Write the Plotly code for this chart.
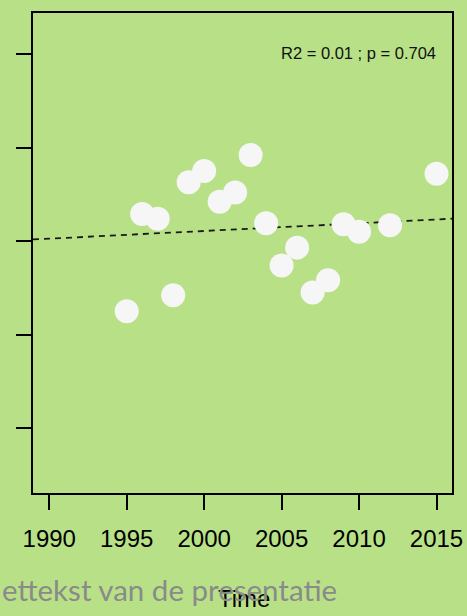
import numpy as np
import plotly.graph_objects as go

# Annual observations
years = [1995, 1996, 1997, 1998, 1999, 2000, 2001, 2002, 2003,
         2004, 2005, 2006, 2007, 2008, 2009, 2010, 2012, 2015]
values = [1.25, 2.29, 2.24, 1.42, 2.63, 2.75, 2.42, 2.52, 2.92,
          2.19, 1.74, 1.93, 1.45, 1.58, 2.18, 2.10, 2.17, 2.72]

x_ticks = [1990, 1995, 2000, 2005, 2010, 2015]
y_ticks = [0, 1, 2, 3, 4]
x_range = [1988.95, 2016.0]
y_range = [-0.695, 4.44]

stats_label = "R2 = 0.01 ; p = 0.704"
footer_label = "ettekst van de presentatie"

# Linear trend over time
slope, intercept = np.polyfit(years, values, 1)
trend_x = np.array(x_range)
trend_y = intercept + slope * trend_x

bg = "#b8e187"
font_family = "Liberation Sans, Arial, sans-serif"

fig = go.Figure()
fig.add_trace(go.Scatter(
    x=trend_x, y=trend_y, mode="lines",
    line=dict(color="#1a1a1a", width=1.8, dash="6px,5px"),
    hoverinfo="skip", showlegend=False,
))
fig.add_trace(go.Scatter(
    x=years, y=values, mode="markers",
    marker=dict(size=24, color="#f6f6f6", line=dict(width=0)),
    showlegend=False,
))

fig.update_layout(
    width=467, height=616,
    margin=dict(l=33, r=15, t=13, b=123),
    paper_bgcolor=bg, plot_bgcolor=bg,
    font=dict(family=font_family, color="#000000"),
    xaxis=dict(
        range=x_range, tickvals=x_ticks, ticks="outside", ticklen=15,
        tickwidth=1.6, tickcolor="#000", showline=True, linewidth=2,
        linecolor="#000", mirror=True, showgrid=False, zeroline=False,
        automargin=False, ticklabelstandoff=8,
        tickfont=dict(size=24, family=font_family, color="#000"),
    ),
    yaxis=dict(
        range=y_range, tickvals=y_ticks, ticks="outside", ticklen=15,
        tickwidth=1.6, tickcolor="#000", showline=True, linewidth=2,
        linecolor="#000", mirror=True, showgrid=False, zeroline=False,
        automargin=False, showticklabels=False,
    ),
    annotations=[
        dict(text=stats_label, xref="paper", yref="paper", x=0.967, y=0.916,
             xanchor="right", yanchor="middle", showarrow=False,
             font=dict(size=16.5, family=font_family, color="#111")),
        dict(text="Time", xref="paper", yref="paper", x=0.503, y=-0.22,
             xanchor="center", yanchor="middle", showarrow=False,
             font=dict(size=24, family=font_family, color="#000")),
        dict(text=footer_label, xref="paper", yref="paper", x=-0.079, y=-0.2,
             xanchor="left", yanchor="middle", showarrow=False,
             font=dict(size=29.5, family="Lato, sans-serif", color="#8a8a8a")),
    ],
)

fig.write_html("out.html")
